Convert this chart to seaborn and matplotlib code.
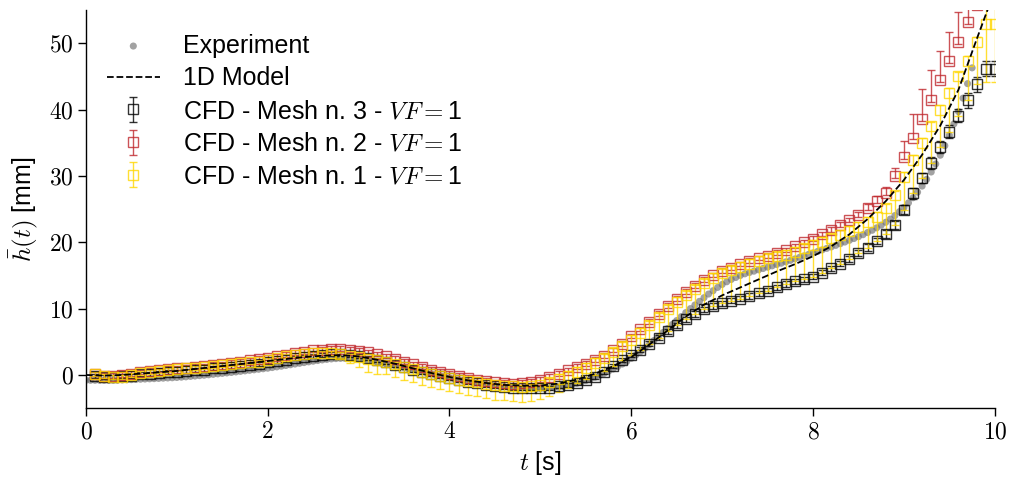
import numpy as np
import pandas as pd
import matplotlib
matplotlib.use('Agg')
import matplotlib.pyplot as plt
import seaborn as sns

# sampling times
T_EXP = np.round(np.arange(0, 196) * 0.05, 2)     # 0.00 .. 9.75
T_MODEL = np.round(np.arange(0, 51) * 0.2, 1)     # 0.0 .. 10.0
T_CFD = np.round(np.arange(1, 101) * 0.1, 1)      # 0.1 .. 10.0

# experiment, mean height [mm]
H_EXP = [
  -0.80, -0.80, -0.80, -0.80, -0.80, -0.80, -0.78, -0.77, -0.75, -0.72, -0.70, -0.67, -0.64, -0.61, -0.58, -0.55, -0.52, -0.48, -0.45, -0.42,
  -0.38, -0.33, -0.28, -0.22, -0.16, -0.10, -0.04, 0.03, 0.10, 0.17, 0.24, 0.31, 0.38, 0.46, 0.54, 0.62, 0.70, 0.78, 0.86, 0.94,
  1.02, 1.12, 1.22, 1.32, 1.43, 1.54, 1.65, 1.76, 1.87, 1.98, 2.08, 2.18, 2.27, 2.35, 2.42, 2.47, 2.50, 2.50, 2.48, 2.44,
  2.38, 2.30, 2.20, 2.09, 1.97, 1.84, 1.70, 1.56, 1.41, 1.26, 1.10, 0.94, 0.78, 0.62, 0.46, 0.30, 0.14, -0.02, -0.17, -0.32,
  -0.46, -0.60, -0.73, -0.86, -0.98, -1.10, -1.21, -1.32, -1.42, -1.51, -1.60, -1.68, -1.75, -1.82, -1.88, -1.93, -1.97, -2.00, -2.02, -2.03,
  -2.03, -2.01, -1.97, -1.91, -1.83, -1.72, -1.59, -1.44, -1.26, -1.06, -0.84, -0.60, -0.34, -0.06, 0.24, 0.56, 0.90, 1.26, 1.64, 2.04,
  2.50, 3.00, 3.50, 4.05, 4.60, 5.20, 5.80, 6.40, 7.00, 7.60, 8.20, 8.80, 9.40, 10.00, 10.55, 11.10, 11.65, 12.20, 12.70, 13.20,
  13.65, 14.05, 14.40, 14.70, 15.00, 15.25, 15.45, 15.65, 15.85, 16.05, 16.25, 16.45, 16.65, 16.85, 17.05, 17.27, 17.50, 17.72, 17.95, 18.17,
  18.40, 18.62, 18.85, 19.08, 19.30, 19.54, 19.79, 20.04, 20.30, 20.57, 20.85, 21.15, 21.47, 21.81, 22.18, 22.58, 23.02, 23.50, 24.03, 24.61,
  25.25, 25.95, 26.72, 27.56, 28.48, 29.49, 30.60, 31.81, 33.13, 34.57, 36.14, 37.85, 39.71, 41.73, 43.92, 46.30,
]

# 1D model
H_MODEL = [
  0.0, -0.1, 0.0, 0.2, 0.4, 0.6, 0.9, 1.2, 1.5, 1.8,
  2.1, 2.4, 2.7, 2.9, 3.0, 2.8, 2.3, 1.7, 1.0, 0.3,
  -0.3, -0.8, -1.2, -1.5, -1.6, -1.6, -1.3, -0.7, 0.2, 1.3,
  2.7, 4.6, 6.7, 8.8, 10.6, 12.0, 13.2, 14.4, 15.6, 16.7,
  17.9, 19.4, 21.2, 23.5, 26.2, 29.4, 33.2, 37.6, 43.0, 50.6,
  58.0,
]

# CFD - Mesh n. 3
H_MESH3 = [
  -0.2, -0.3, -0.3, -0.2, -0.1, 0.1, 0.2, 0.3, 0.4, 0.5,
  0.6, 0.7, 0.8, 1.0, 1.1, 1.2, 1.4, 1.5, 1.7, 1.9,
  2.1, 2.3, 2.5, 2.7, 2.9, 3.0, 3.1, 3.1, 3.0, 2.8,
  2.5, 2.2, 1.9, 1.5, 1.2, 0.8, 0.5, 0.2, -0.1, -0.4,
  -0.7, -1.0, -1.2, -1.5, -1.6, -1.8, -1.9, -2.0, -2.0, -2.0,
  -1.9, -1.7, -1.5, -1.2, -0.8, -0.3, 0.4, 1.3, 2.2, 3.0,
  3.8, 4.7, 5.6, 6.6, 7.5, 8.4, 9.2, 9.9, 10.4, 10.8,
  11.2, 11.5, 11.9, 12.3, 12.7, 13.2, 13.7, 14.1, 14.4, 14.8,
  15.4, 16.1, 16.8, 17.5, 18.4, 19.2, 20.2, 21.3, 22.6, 24.9,
  27.4, 29.7, 32.0, 34.4, 36.7, 39.1, 41.4, 43.8, 46.2, 46.2,
]
ERR_MESH3 = [0.3] * 60 + [0.4] * 25 + [
  0.5, 0.5, 0.6, 0.6, 0.7, 0.8, 0.8, 0.9, 0.9, 1.0, 1.0, 1.1, 1.1, 1.2, 1.2,
]

# CFD - Mesh n. 2
H_MESH2 = [
  0.1, -0.1, -0.1, 0.0, 0.2, 0.4, 0.6, 0.7, 0.9, 1.0,
  1.1, 1.2, 1.3, 1.5, 1.6, 1.8, 2.0, 2.2, 2.4, 2.6,
  2.8, 3.0, 3.3, 3.5, 3.7, 3.8, 3.9, 3.9, 3.8, 3.6,
  3.4, 3.1, 2.8, 2.4, 2.0, 1.6, 1.2, 0.8, 0.5, 0.2,
  -0.1, -0.4, -0.7, -0.9, -1.1, -1.2, -1.3, -1.2, -1.0, -0.7,
  -0.3, 0.2, 0.7, 1.2, 1.7, 2.3, 2.9, 3.7, 4.7, 5.8,
  6.9, 8.0, 9.2, 10.4, 11.5, 12.5, 13.4, 14.3, 15.0, 15.7,
  16.2, 16.7, 17.2, 17.6, 18.0, 18.4, 18.8, 19.4, 20.0, 20.5,
  21.2, 21.9, 22.6, 23.3, 24.1, 25.2, 26.3, 27.4, 30.0, 32.9,
  35.8, 38.6, 41.4, 44.4, 47.3, 50.2, 53.2, 55.8, 58.5, 61.0,
]
ERR_LO_MESH2 = [0.3] * 100
ERR_HI_MESH2 = [0.4] * 85 + [
  0.6, 0.7, 0.9, 1.2, 2.3, 3.5, 4.5, 4.6, 4.5, 4.4, 4.5, 4.5, 4.5, 4.5, 4.5,
]

# CFD - Mesh n. 1
H_MESH1 = [
  0.2, -0.1, -0.3, -0.3, 0.0, 0.3, 0.5, 0.6, 0.8, 0.9,
  1.0, 1.1, 1.2, 1.4, 1.5, 1.6, 1.8, 1.9, 2.0, 2.3,
  2.5, 2.8, 3.0, 3.1, 3.3, 3.3, 3.3, 3.1, 2.9, 2.7,
  2.4, 2.2, 1.9, 1.6, 1.2, 0.9, 0.5, 0.2, -0.1, -0.4,
  -0.7, -0.9, -1.1, -1.3, -1.5, -1.6, -1.7, -1.8, -1.7, -1.5,
  -1.1, -0.6, -0.1, 0.5, 1.1, 1.8, 2.5, 3.4, 4.3, 5.3,
  6.4, 7.5, 8.7, 9.9, 11.0, 12.0, 12.9, 13.8, 14.6, 15.3,
  15.8, 16.3, 16.8, 17.2, 17.6, 17.9, 18.1, 18.6, 19.1, 19.6,
  20.1, 20.6, 21.1, 21.7, 22.3, 23.1, 23.8, 25.1, 27.1, 29.9,
  32.4, 35.0, 37.5, 40.0, 42.5, 45.0, 47.4, 50.2, 52.9, 52.9,
]
ERR_LO_MESH1 = [0.3] * 27 + [
  0.6, 1.1, 1.5, 1.9, 2.0, 1.8, 1.9, 2.0, 2.0, 2.0,
  2.0, 2.0, 2.0, 2.0, 2.1, 2.1, 2.1, 2.2, 2.2, 2.2,
  2.2, 2.2, 2.1, 2.0, 1.9, 1.8, 1.7, 1.7, 1.8, 1.9,
  2.0, 2.1,
  2.3, 2.6, 2.8, 3.1, 3.3, 3.5, 3.6, 3.7, 3.9, 4.2,
  4.5, 4.6, 4.8, 4.9, 4.9, 4.9, 4.7, 4.4, 4.5, 4.7,
  4.8, 4.7, 4.5, 4.3, 4.2, 3.9, 3.9, 3.6, 3.8, 4.5,
  5.0, 5.0, 5.3, 5.5, 5.6, 5.8, 5.9, 6.0, 6.4, 8.7,
  8.7,
]
ERR_HI_MESH1 = [0.3] * 50 + [0.7] * 48 + [3.0, 3.0]

LABELS = [
  'Experiment',
  '1D Model',
  'CFD - Mesh n. 3 - $VF=$1',
  'CFD - Mesh n. 2 - $VF=$1',
  'CFD - Mesh n. 1 - $VF=$1',
]
COLORS = ['#707070', 'black', 'black', '#c0282d', '#ffd700']


sns.set_style('ticks')
plt.rcParams['font.family'] = ['Liberation Sans', 'DejaVu Sans']
plt.rcParams['mathtext.fontset'] = 'cm'
plt.rcParams['text.color'] = 'black'
plt.rcParams['axes.labelcolor'] = 'black'

fig = plt.figure(figsize=(10.11, 4.83), dpi=100)
ax = fig.add_axes([0.085, 0.155, 0.899, 0.824])

df_exp = pd.DataFrame({'t': T_EXP, 'h': H_EXP})
df_model = pd.DataFrame({'t': T_MODEL, 'h': H_MODEL})

sns.scatterplot(data=df_exp, x='t', y='h', ax=ax, color=COLORS[0], s=26,
                alpha=0.65, edgecolor='none', label=LABELS[0], zorder=2)

cfd = [
  (H_MESH3, [ERR_MESH3, ERR_MESH3], LABELS[2], COLORS[2]),
  (H_MESH2, [ERR_LO_MESH2, ERR_HI_MESH2], LABELS[3], COLORS[3]),
  (H_MESH1, [ERR_LO_MESH1, ERR_HI_MESH1], LABELS[4], COLORS[4]),
]
for h, err, lab, col in cfd:
  ax.errorbar(T_CFD, h, yerr=err, fmt='s', ms=7, mfc='none', mec=col, mew=1.0,
              ecolor=col, elinewidth=1.0, capsize=3.2, capthick=1.0,
              alpha=0.8, label=lab, zorder=3)

sns.lineplot(data=df_model, x='t', y='h', ax=ax, color=COLORS[1], lw=1.3,
             linestyle='--', label=LABELS[1], zorder=5)

ax.set_xlim(0, 10)
ax.set_ylim(-5, 55)
ax.set_xticks([0, 2, 4, 6, 8, 10])
ax.set_yticks([0, 10, 20, 30, 40, 50])
ax.set_xticklabels([f'${v}$' for v in [0, 2, 4, 6, 8, 10]])
ax.set_yticklabels([f'${v}$' for v in [0, 10, 20, 30, 40, 50]])
ax.tick_params(labelsize=17, length=6, width=1, colors='black')
ax.tick_params(axis='y', pad=3)
for s in ['left', 'bottom']:
  ax.spines[s].set_linewidth(1.0)
  ax.spines[s].set_color('black')
sns.despine(ax=ax)

ax.set_xlabel('$t$ [s]', fontsize=18, labelpad=4)
ax.set_ylabel(r'$\bar{h}(t)$ [mm]', fontsize=18, labelpad=6)

hs, ls = ax.get_legend_handles_labels()
order = [LABELS.index(l) for l in ls]
pairs = sorted(zip(order, hs, ls))
ax.legend([p[1] for p in pairs], [p[2] for p in pairs], loc='upper left',
          frameon=False, fontsize=18, handlelength=2.1, labelspacing=0.35,
          handletextpad=0.95, borderaxespad=0.3, bbox_to_anchor=(0.004, 0.985))

fig.savefig('out.png', dpi=100)
